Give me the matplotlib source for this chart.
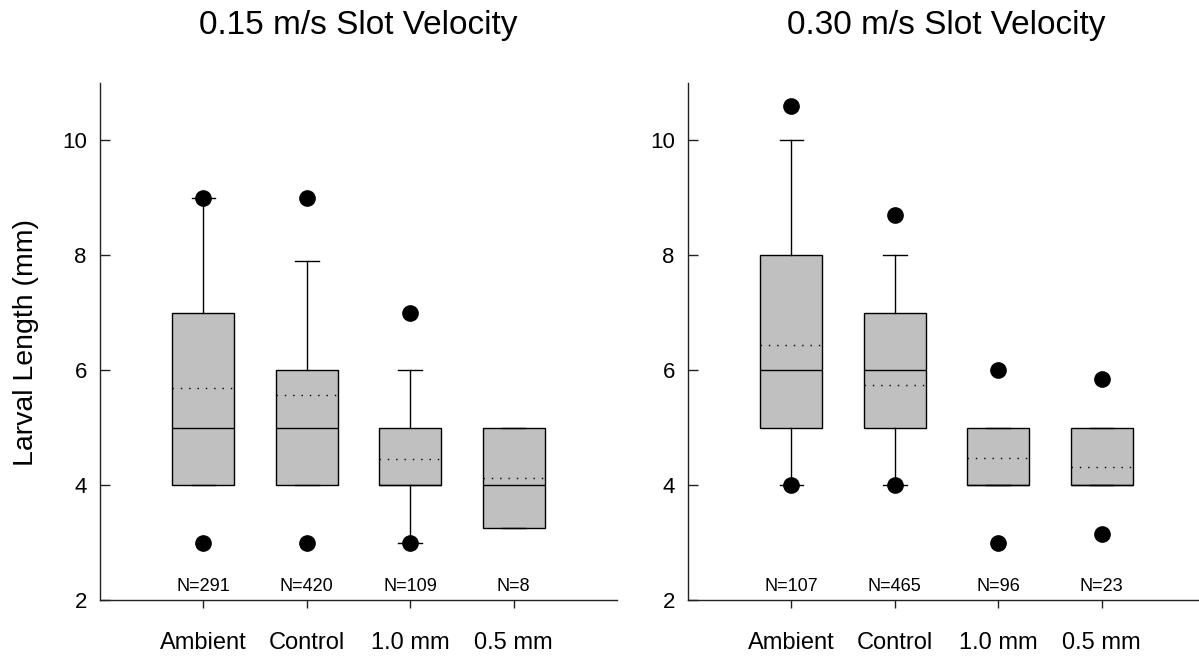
"""Larval length box plots at two slot velocities.

Builds box-and-whisker summaries (quartiles, 10th/90th whiskers, means and
outlying points) for the four intake treatments and saves out.png.
"""

import matplotlib

matplotlib.use("Agg")

import matplotlib.pyplot as plt


OUTPUT_PNG = "out.png"

CATEGORIES = ["Ambient", "Control", "1.0 mm", "0.5 mm"]

# 0.15 m/s slot velocity
SLOW_N = [291, 420, 109, 8]
SLOW_Q1 = [4, 4, 4, 3.25]
SLOW_MEDIAN = [5, 5, 4, 4]
SLOW_Q3 = [7, 6, 5, 5]
SLOW_WHISLO = [4, 4, 3, 3.25]
SLOW_WHISHI = [9, 7.9, 6, 5]
SLOW_MEAN = [5.69, 5.56, 4.45, 4.13]
SLOW_FLIERS = [[9, 3], [9, 3], [7, 3], []]

# 0.30 m/s slot velocity
FAST_N = [107, 465, 96, 23]
FAST_Q1 = [5, 5, 4, 4]
FAST_MEDIAN = [6, 6, 4, 4]
FAST_Q3 = [8, 7, 5, 5]
FAST_WHISLO = [4, 4, 4, 4]
FAST_WHISHI = [10, 8, 5, 5]
FAST_MEAN = [6.44, 5.75, 4.47, 4.32]
FAST_FLIERS = [[10.6, 4], [8.7, 4], [6, 3], [5.85, 3.15]]

PANEL_TITLES = ["0.15 m/s Slot Velocity", "0.30 m/s Slot Velocity"]

plt.rcParams["font.family"] = ["Liberation Sans", "DejaVu Sans"]


def build_stats(q1, med, q3, lo, hi, mean, fliers):
    stats = []
    for i, name in enumerate(CATEGORIES):
        stats.append({
            "label": name,
            "q1": q1[i],
            "med": med[i],
            "q3": q3[i],
            "whislo": lo[i],
            "whishi": hi[i],
            "mean": mean[i],
            "fliers": fliers[i],
        })
    return stats


def draw_panel(ax, stats, counts, title):
    positions = list(range(1, len(stats) + 1))
    ax.bxp(
        stats,
        positions=positions,
        widths=0.6,
        capwidths=0.23,
        patch_artist=True,
        showmeans=True,
        meanline=True,
        boxprops=dict(facecolor="#c0c0c0", edgecolor="black", linewidth=1.0),
        medianprops=dict(color="black", linewidth=1.0),
        meanprops=dict(color="black", linewidth=1.0, linestyle=(0, (1, 5))),
        whiskerprops=dict(color="black", linewidth=1.0),
        capprops=dict(color="black", linewidth=1.0),
        flierprops=dict(marker="o", markerfacecolor="black", markeredgecolor="black",
                        markersize=11, linestyle="none"),
    )
    for pos, n in zip(positions, counts):
        ax.text(pos, 2.16, f"N={n}", ha="center", va="baseline", fontsize=13)

    ax.set_xlim(0, 5)
    ax.set_ylim(2, 11)
    ax.set_yticks([2, 4, 6, 8, 10])
    ax.set_xticks(positions)
    ax.set_xticklabels(CATEGORIES)
    ax.spines["top"].set_visible(False)
    ax.spines["right"].set_visible(False)
    for side in ("left", "bottom"):
        ax.spines[side].set_linewidth(1.0)
        ax.spines[side].set_color("#222222")
    ax.tick_params(axis="y", direction="in", length=7.5, width=1.0, pad=9.5,
                   labelsize=16, color="#222222")
    ax.tick_params(axis="x", direction="out", length=6, width=1.0, pad=17,
                   labelsize=17, color="#222222")

    # title baseline sits 34 px below the top edge of the figure
    ax.text(0.5, 1 + 49 / 517, title, transform=ax.transAxes,
            ha="center", va="baseline", fontsize=24)


def main() -> None:
    fig = plt.figure(figsize=(11.99, 6.57), dpi=100)
    ax_slow = fig.add_axes([100 / 1199, 57 / 657, 517 / 1199, 517 / 657])
    ax_fast = fig.add_axes([688 / 1199, 57 / 657, 517 / 1199, 517 / 657])

    slow_stats = build_stats(SLOW_Q1, SLOW_MEDIAN, SLOW_Q3, SLOW_WHISLO,
                             SLOW_WHISHI, SLOW_MEAN, SLOW_FLIERS)
    fast_stats = build_stats(FAST_Q1, FAST_MEDIAN, FAST_Q3, FAST_WHISLO,
                             FAST_WHISHI, FAST_MEAN, FAST_FLIERS)

    draw_panel(ax_slow, slow_stats, SLOW_N, PANEL_TITLES[0])
    draw_panel(ax_fast, fast_stats, FAST_N, PANEL_TITLES[1])

    fig.text(26.5 / 1199, 1 - 342 / 657, "Larval Length (mm)", rotation=90,
             ha="center", va="center", fontsize=20.5)

    fig.savefig(OUTPUT_PNG, dpi=100)
    plt.close(fig)


if __name__ == "__main__":
    main()
